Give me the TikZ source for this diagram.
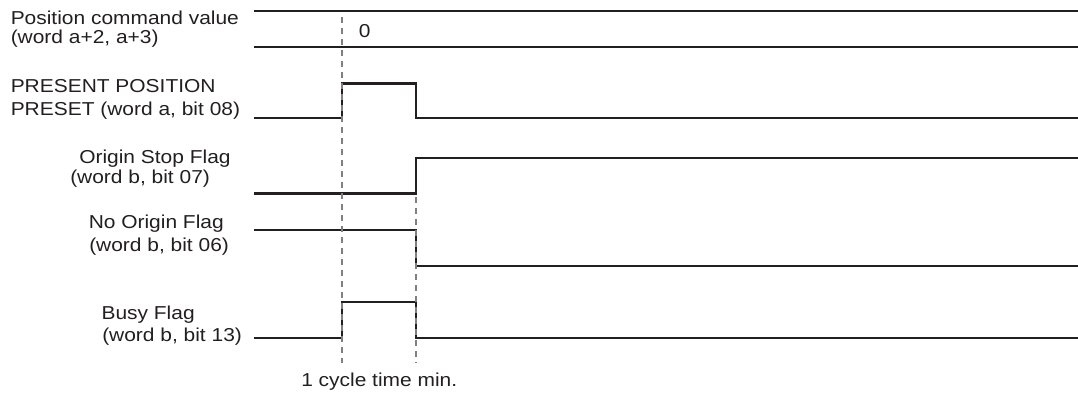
\documentclass[tikz,border=0pt]{standalone}
\usepackage{fontspec}
\setmainfont[FakeStretch=1.12]{Liberation Sans}
\usepackage{xcolor}
\usetikzlibrary{positioning}
\definecolor{ink}{HTML}{231F20}

\begin{document}
\begin{tikzpicture}[x=1pt, y=-1pt, line width=2.5pt, ink,
    lbl/.style={anchor=base west, inner sep=0pt, font=\fontsize{18.7}{22}\selectfont},
    guide/.style={line width=1.1pt, gray, dash pattern=on 6pt off 5pt}]
    \useasboundingbox (0,0) rectangle (1078,395);

    % signals
    \draw (254,11) -- (1078,11);
    \draw (254,47) -- (1078,47);
    \draw (254,118) -- (342,118) -- (342,83.5) -- (416,83.5) -- (416,118) -- (1078,118);
    \draw (254,193.5) -- (416,193.5) -- (416,158) -- (1078,158);
    \draw (254,230) -- (416,230) -- (416,266) -- (1078,266);
    \draw (254,338) -- (342,338) -- (342,302) -- (416,302) -- (416,338) -- (1078,338);

    % timing guides
    \draw[guide] (342,17) -- (342,363);
    \draw[guide] (416,197) -- (416,363);

    % labels
    \node[lbl] (pcv1) at (9.5,25) {Position command value};
    \node[lbl] (pcv2) at (9.5,44) {(word a+2, a+3)};
    \node[lbl] (zero) at (357.5,37.3) {0};
    \node[lbl] (pre1) at (9.5,92.7) {PRESENT POSITION};
    \node[lbl] (pre2) at (9.5,115.7) {PRESET (word a, bit 08)};
    \node[lbl] (osf1) at (78,164) {Origin Stop Flag};
    \node[lbl] (osf2) at (69,183.3) {(word b, bit 07)};
    \node[lbl] (nof1) at (87.5,228.3) {No Origin Flag};
    \node[lbl] (nof2) at (88,251.7) {(word b, bit 06)};
    \node[lbl] (bsy1) at (100.3,319) {Busy Flag};
    \node[lbl] (bsy2) at (101,341.7) {(word b, bit 13)};
    \node[lbl] (cyc) at (300,386) {1 cycle time min.};
\end{tikzpicture}
\end{document}
